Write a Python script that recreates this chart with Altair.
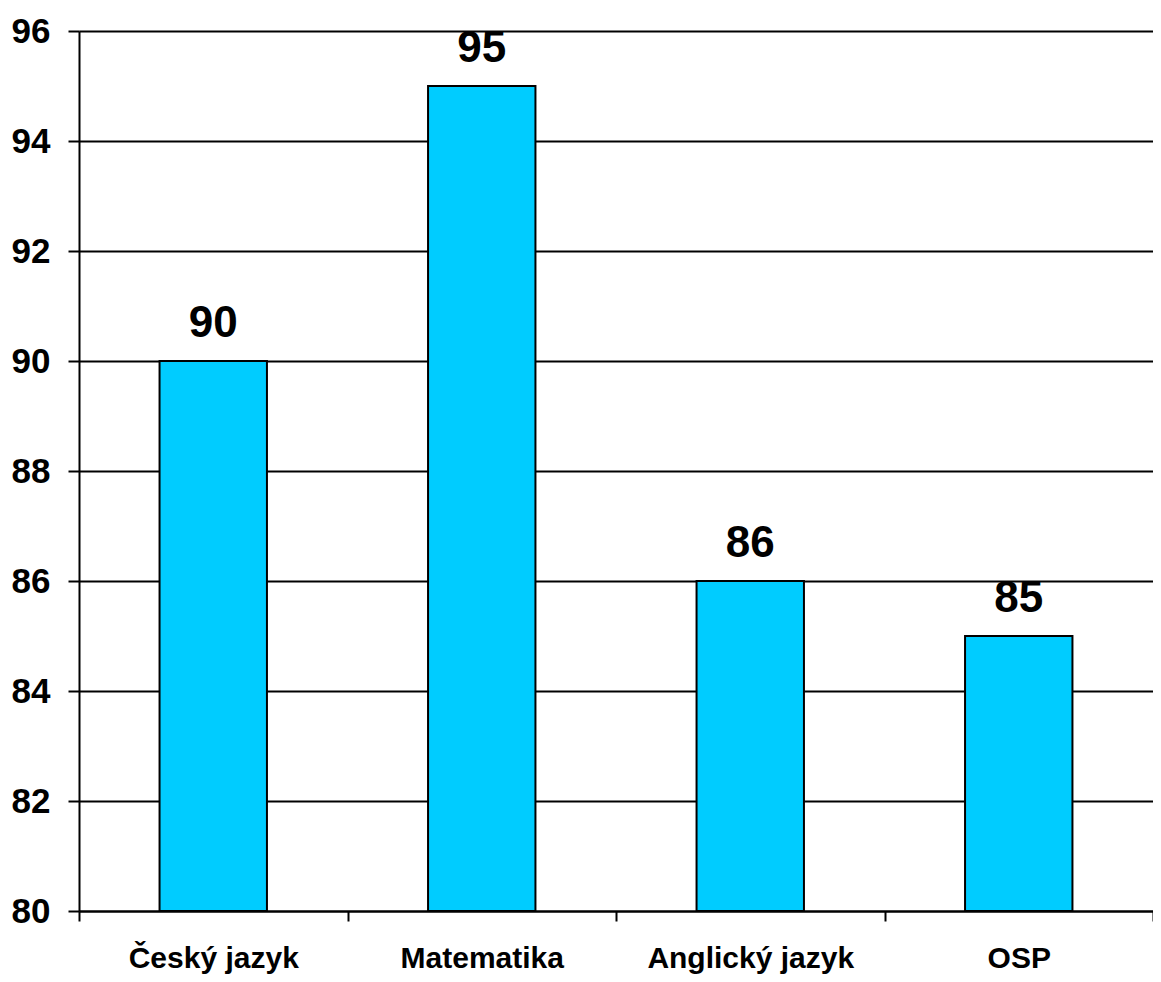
import altair as alt
import pandas as pd

categories = ["Český jazyk", "Matematika", "Anglický jazyk", "OSP"]
values = [90, 95, 86, 85]
y_ticks = [80, 82, 84, 86, 88, 90, 92, 94, 96]

df = pd.DataFrame({"subject": categories, "score": values})

FONT = "Liberation Sans"

x = alt.X(
    "subject:N",
    sort=categories,
    title=None,
    scale=alt.Scale(paddingInner=0, paddingOuter=0),
    axis=alt.Axis(
        labelAngle=0,
        labelFont=FONT,
        labelFontSize=30,
        labelFontWeight="bold",
        labelColor="black",
        labelPadding=22,
        labelBaseline="top",
        labelLimit=0,
        tickBand="extent",
        tickSize=10,
        tickColor="black",
        tickWidth=2,
        domainColor="black",
        domainWidth=2,
        grid=False,
    ),
)

y = alt.Y(
    "score:Q",
    title=None,
    scale=alt.Scale(domain=[80, 96], nice=False, zero=False, clamp=True),
    axis=alt.Axis(
        values=y_ticks,
        format="d",
        labelFont=FONT,
        labelFontSize=35,
        labelFontWeight="bold",
        labelColor="black",
        labelPadding=18,
        tickSize=11,
        tickColor="black",
        tickWidth=2,
        domainColor="black",
        domainWidth=2,
        grid=True,
        gridColor="black",
        gridWidth=2,
        gridOpacity=1,
    ),
)

bars = alt.Chart(df).mark_bar(
    width=alt.RelativeBandSize(0.4),
    color="#00CCFF",
    stroke="black",
    strokeWidth=2,
).encode(x=x, y=y, y2=alt.datum(80))

labels = alt.Chart(df).mark_text(
    font=FONT,
    fontSize=44,
    fontWeight="bold",
    color="black",
    baseline="alphabetic",
    dy=-24,
).encode(x=alt.X("subject:N", sort=categories), y=alt.Y("score:Q"), text="score:Q")

chart = (
    alt.layer(bars, labels)
    .properties(
        width=1074,
        height=880,
        autosize=alt.AutoSizeParams(type="none"),
        padding={"left": 71, "top": 23, "right": 0, "bottom": 63},
    )
    .configure_view(stroke=None)
    .configure(background="white")
)

chart.save("out.html", embed_options={"renderer": "svg", "actions": False})
